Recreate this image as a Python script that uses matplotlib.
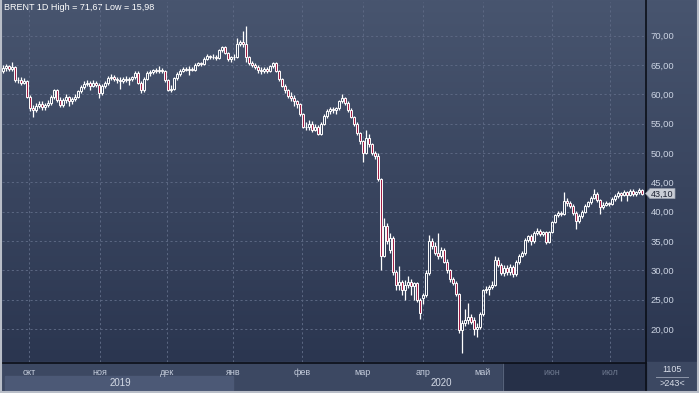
import numpy as np
import matplotlib.pyplot as plt
from matplotlib.patches import Rectangle, Polygon
from matplotlib.colors import LinearSegmentedColormap
import matplotlib.transforms as mtransforms

plt.rcParams['font.family'] = ['Liberation Sans', 'DejaVu Sans']

# daily candles (mid Sep 2019 .. mid Jul 2020)
opens = [
    64.0, 64.5, 64.8, 64.3, 64.6, 62.4, 62.5, 62.0, 62.3, 59.6,
    57.7, 57.3, 58.0, 58.3, 57.8, 58.2, 58.5, 59.5, 60.7, 59.0,
    58.2, 59.0, 59.5, 58.8, 59.2, 59.6, 60.5, 61.3, 61.8, 62.0,
    61.5, 62.0, 61.6, 60.2, 61.5, 61.9, 62.8, 63.0, 62.6, 62.5,
    62.3, 62.7, 62.4, 62.6, 62.9, 63.6, 62.0, 60.7, 62.7, 63.6,
    63.8, 64.1, 63.9, 64.2, 64.0, 62.4, 60.8, 61.0, 62.8, 63.5,
    64.0, 64.3, 64.2, 64.4, 64.2, 65.0, 65.3, 65.2, 66.0, 66.5,
    66.3, 66.4, 66.2, 67.5, 68.0, 67.0, 66.0, 66.3, 66.4, 68.6,
    68.9, 68.5, 66.3, 65.3, 65.0, 64.7, 64.2, 63.9, 64.3, 64.0,
    64.8, 65.3, 64.0, 62.6, 61.5, 60.8, 59.8, 59.3, 58.8, 58.3,
    56.6, 54.5, 54.4, 55.0, 54.0, 54.5, 53.3, 55.0, 56.3, 57.2,
    57.5, 57.3, 57.6, 58.8, 59.3, 58.5, 57.3, 56.2, 55.0, 53.4,
    52.0, 50.0, 52.5, 51.5, 50.0, 49.5, 45.5, 32.5, 37.5, 33.5,
    35.5, 29.7, 27.5, 28.0, 26.6, 27.5, 28.0, 27.3, 27.8, 25.0,
    25.3, 25.8, 29.6, 35.0, 34.2, 33.0, 32.5, 33.5, 31.5, 30.0,
    28.5, 27.9, 26.0, 19.8, 21.0, 21.5, 22.0, 21.5, 20.0, 20.4,
    22.6, 26.6, 26.9, 27.2, 27.5, 31.7, 31.0, 29.6, 30.5, 29.8,
    30.6, 29.4, 31.4, 32.5, 32.9, 35.2, 35.8, 35.0, 36.4, 36.8,
    36.2, 36.5, 34.8, 36.5, 38.2, 39.4, 39.8, 39.6, 41.9, 41.5,
    41.0, 39.8, 38.5, 39.2, 40.0, 41.0, 41.6, 42.3, 43.0, 42.0,
    40.8, 41.2, 41.5, 41.3, 42.2, 42.7, 43.2, 42.9, 43.4, 42.8,
    43.5, 43.0, 43.3, 43.7,
]
highs = [
    65.0, 65.1, 65.0, 65.6, 64.9, 63.0, 62.9, 62.8, 62.5, 59.9,
    58.2, 58.5, 58.9, 58.8, 58.6, 59.0, 59.9, 61.0, 60.9, 59.5,
    59.4, 60.1, 59.8, 59.6, 60.0, 60.8, 61.6, 62.3, 62.4, 62.3,
    62.4, 62.3, 61.9, 61.8, 62.2, 63.1, 63.5, 63.3, 62.9, 62.9,
    63.0, 63.1, 62.9, 63.2, 64.0, 63.9, 62.3, 63.0, 63.9, 64.2,
    64.4, 64.5, 64.8, 64.5, 64.2, 62.6, 61.6, 63.0, 63.8, 64.3,
    64.6, 64.7, 64.8, 64.7, 65.3, 65.6, 65.6, 66.3, 66.8, 66.7,
    66.8, 66.7, 67.8, 68.3, 68.3, 67.2, 66.6, 66.8, 69.6, 69.3,
    70.8, 71.67, 66.6, 65.7, 65.4, 65.0, 64.6, 64.6, 64.6, 65.0,
    65.6, 65.5, 64.2, 62.8, 61.8, 61.0, 60.4, 59.9, 59.1, 58.5,
    56.8, 55.3, 55.6, 55.4, 55.0, 54.8, 55.3, 56.6, 57.5, 57.8,
    57.8, 57.9, 59.1, 60.0, 59.6, 58.8, 57.6, 56.4, 55.3, 53.6,
    52.3, 53.9, 53.3, 51.8, 50.4, 50.0, 45.7, 39.0, 38.0, 36.3,
    35.8, 30.0, 30.8, 28.4, 28.3, 29.0, 28.6, 28.1, 28.0, 25.3,
    26.2, 30.0, 36.0, 35.5, 34.8, 36.3, 34.0, 33.8, 31.9, 30.3,
    28.9, 28.2, 26.2, 21.6, 23.5, 24.5, 22.5, 22.1, 21.0, 23.0,
    26.9, 27.3, 27.6, 28.2, 32.5, 32.3, 31.3, 30.9, 30.9, 31.1,
    30.9, 31.8, 32.8, 33.3, 35.5, 36.1, 36.2, 36.8, 37.2, 37.0,
    36.8, 36.8, 36.7, 38.5, 39.7, 40.1, 40.2, 43.4, 42.3, 41.8,
    41.4, 40.2, 39.6, 40.3, 41.3, 41.9, 42.6, 43.9, 43.3, 42.2,
    41.6, 41.8, 41.7, 42.5, 43.0, 43.5, 43.4, 43.7, 43.6, 43.9,
    43.8, 43.6, 44.0, 43.9,
]
lows = [
    63.6, 64.0, 63.9, 63.9, 62.1, 61.9, 61.6, 61.7, 59.3, 57.2,
    56.2, 57.0, 57.6, 57.4, 57.3, 57.9, 58.2, 59.2, 58.7, 57.9,
    57.9, 58.6, 58.1, 58.4, 58.9, 59.3, 60.2, 61.0, 61.4, 60.8,
    61.2, 61.2, 59.4, 59.9, 61.1, 61.6, 62.5, 62.2, 62.0, 61.0,
    62.0, 62.1, 61.6, 62.2, 62.6, 61.8, 60.3, 60.4, 62.5, 63.2,
    63.5, 63.6, 63.6, 63.7, 62.1, 60.5, 60.4, 60.8, 62.5, 63.2,
    63.8, 63.9, 63.3, 63.9, 64.0, 64.8, 64.9, 65.0, 65.8, 66.0,
    66.0, 65.9, 66.0, 67.2, 66.8, 65.7, 65.6, 65.9, 66.2, 68.3,
    68.0, 65.6, 65.0, 64.6, 64.3, 63.7, 63.5, 63.6, 63.6, 63.8,
    64.5, 63.8, 62.3, 61.2, 60.2, 59.4, 58.9, 58.0, 57.6, 56.3,
    54.2, 53.9, 54.0, 53.6, 53.7, 53.0, 53.1, 54.7, 56.0, 56.6,
    56.8, 56.6, 57.4, 58.5, 58.2, 57.0, 55.9, 54.6, 53.1, 51.5,
    48.5, 49.8, 51.0, 49.6, 49.0, 45.2, 30.1, 32.3, 34.5, 33.0,
    29.3, 26.6, 26.6, 25.8, 24.9, 27.0, 25.9, 25.0, 24.7, 21.8,
    24.2, 25.5, 29.3, 33.6, 32.6, 31.9, 32.1, 31.2, 29.5, 28.1,
    27.5, 25.6, 19.3, 15.98, 20.6, 20.9, 20.8, 19.0, 18.7, 20.1,
    22.3, 26.2, 25.9, 26.8, 27.3, 30.6, 29.2, 29.0, 29.2, 29.3,
    28.9, 29.1, 31.1, 32.3, 32.7, 34.9, 34.4, 34.6, 36.0, 35.9,
    35.9, 34.5, 34.6, 36.3, 38.0, 39.1, 39.3, 39.4, 41.0, 40.6,
    39.5, 37.1, 38.0, 39.0, 39.8, 40.8, 41.4, 42.1, 41.7, 39.6,
    40.5, 40.9, 41.0, 41.1, 41.9, 42.4, 41.8, 42.6, 41.9, 42.6,
    42.7, 42.6, 43.0, 42.9,
]
closes = [
    64.5, 64.8, 64.3, 64.6, 62.4, 62.5, 62.0, 62.3, 59.6, 57.7,
    57.3, 58.0, 58.3, 57.8, 58.2, 58.5, 59.5, 60.7, 59.0, 58.2,
    59.0, 59.5, 58.8, 59.2, 59.6, 60.5, 61.3, 61.8, 62.0, 61.5,
    62.0, 61.6, 60.2, 61.5, 61.9, 62.8, 63.0, 62.6, 62.5, 62.3,
    62.7, 62.4, 62.6, 62.9, 63.6, 62.0, 60.7, 62.7, 63.6, 63.8,
    64.1, 63.9, 64.2, 64.0, 62.4, 60.8, 61.0, 62.8, 63.5, 64.0,
    64.3, 64.2, 64.4, 64.2, 65.0, 65.3, 65.2, 66.0, 66.5, 66.3,
    66.4, 66.2, 67.5, 68.0, 67.0, 66.0, 66.3, 66.4, 68.6, 68.9,
    68.5, 66.3, 65.3, 65.0, 64.7, 64.2, 63.9, 64.3, 64.0, 64.8,
    65.3, 64.0, 62.6, 61.5, 60.8, 59.8, 59.3, 58.8, 58.3, 56.6,
    54.5, 54.4, 55.0, 54.0, 54.5, 53.3, 55.0, 56.3, 57.2, 57.5,
    57.3, 57.6, 58.8, 59.3, 58.5, 57.3, 56.2, 55.0, 53.4, 52.0,
    50.0, 52.5, 51.5, 50.0, 49.5, 45.5, 32.5, 37.5, 35.0, 35.5,
    29.7, 27.5, 28.0, 26.6, 27.5, 28.0, 27.3, 27.8, 25.0, 22.7,
    25.8, 29.6, 35.0, 34.2, 33.0, 32.5, 33.5, 31.5, 30.0, 28.5,
    27.9, 26.0, 19.8, 21.0, 21.5, 22.0, 21.3, 20.0, 20.4, 22.6,
    26.6, 26.9, 27.2, 27.5, 31.7, 31.0, 29.6, 30.5, 29.8, 30.6,
    29.4, 31.4, 32.5, 32.9, 35.2, 35.8, 35.0, 36.4, 36.8, 36.2,
    36.5, 34.8, 36.5, 38.2, 39.4, 39.8, 39.6, 41.9, 41.5, 41.0,
    39.8, 38.5, 39.2, 40.0, 41.0, 41.6, 42.3, 43.0, 42.0, 40.8,
    41.2, 41.5, 41.3, 42.2, 42.7, 43.2, 42.9, 43.4, 42.8, 43.5,
    43.0, 43.3, 43.7, 43.1,
]
months = ['окт', 'ноя', 'дек', 'янв', 'фев', 'мар', 'апр', 'май', 'июн', 'июл']
month_idx = [8.7, 32.3, 54.7, 76.7, 99.7, 120, 140, 160, 183, 202.3]
years = ['2019', '2020']
price_ticks = [20, 25, 30, 35, 40, 45, 50, 55, 60, 65, 70]

W, H = 699, 393
fig = plt.figure(figsize=(W / 100, H / 100), dpi=100)

# background layer in pixel coordinates
bg = fig.add_axes([0, 0, 1, 1])
bg.set_xlim(0, W)
bg.set_ylim(H, 0)
bg.axis('off')
grad = np.linspace(0, 1, 256).reshape(-1, 1)
cmap = LinearSegmentedColormap.from_list('bgc', ['#48556f', '#2b3650'])
bg.imshow(grad, cmap=cmap, aspect='auto', extent=[0, W, 362, 0], zorder=0)

# bottom strip
bg.add_patch(Rectangle((0, 362), W, 31, color='#3c4862', zorder=1))
bg.add_patch(Rectangle((5, 376), 228, 14, color='#4c5976', zorder=2))
bg.add_patch(Rectangle((503, 363), 143, 28, color='#263048', zorder=2))
bg.plot([503, 503], [363, 391], color='#56627a', lw=0.8, zorder=3)
bg.plot([0, 646], [362.5, 362.5], color='#0b0f18', lw=1.2, zorder=4)
bg.plot([646, 646], [0, 391], color='#0b0f18', lw=1.2, zorder=4)
# frame
bg.plot([0.5, 0.5], [0, H], color='#b9bec8', lw=1.5, zorder=5)
bg.plot([0, W], [391.7, 391.7], color='#b9bec8', lw=2.2, zorder=5)
bg.plot([698.3, 698.3], [0, H], color='#b9bec8', lw=1.5, zorder=5)

# counter box bottom right
bg.text(672, 370, '1105', color='#d8dde8', fontsize=6.5, ha='center', va='center', zorder=6)
bg.plot([656, 688], [377, 377], color='#8e97aa', lw=0.7, zorder=6)
bg.text(672, 384, '>243<', color='#d8dde8', fontsize=6.5, ha='center', va='center', zorder=6)

ax = fig.add_axes([2 / W, (H - 362) / H, 643 / W, 360 / H])
ax.set_facecolor('none')
for s in ax.spines.values():
    s.set_visible(False)

x = np.arange(len(closes))
o = np.array(opens)
c = np.array(closes)
hi = np.array(highs)
lo = np.array(lows)
top = np.maximum(o, c)
bot = np.minimum(o, c)
down = c < o

ax.vlines(x, top, hi, color='white', lw=0.9, zorder=3)
ax.vlines(x, lo, bot, color='white', lw=0.9, zorder=3)
ax.bar(x[down], (top - bot)[down], bottom=bot[down], width=0.85,
       facecolor='#a01e45', edgecolor='white', linewidth=0.7, zorder=4)
ax.bar(x[~down], np.maximum((top - bot)[~down], 0.08), bottom=bot[~down], width=0.85,
       facecolor='none', edgecolor='white', linewidth=0.7, zorder=4)

ax.set_xlim(-0.33, 214.0)
ax.set_ylim(14.4, 75.74)

ax.set_yticks(price_ticks)
ax.set_yticklabels([f'{v:.2f}'.replace('.', ',') for v in price_ticks])
ax.yaxis.tick_right()
ax.tick_params(axis='y', length=0, pad=4, labelsize=6.8, labelcolor='#cbd3e2')

ax.set_xticks(month_idx)
ax.set_xticklabels(months)
ax.tick_params(axis='x', length=0, pad=4, labelsize=6.5)
for i, lab in enumerate(ax.get_xticklabels()):
    lab.set_color('#6f7a90' if i >= 8 else '#c4ccdb')

ax.grid(True, color='#5c6883', linestyle=(0, (2.2, 2.6)), lw=0.7, zorder=1)

# year captions
trans = mtransforms.blended_transform_factory(ax.transData, bg.transData)
ax.text(39, 382.5, years[0], transform=trans, color='#d3d9e5', fontsize=7, ha='center', va='center', clip_on=False)
ax.text(146, 382.5, years[1], transform=trans, color='#d3d9e5', fontsize=7, ha='center', va='center', clip_on=False)

# title
hs = f'{max(highs):.2f}'.replace('.', ',')
ls = f'{min(lows):.2f}'.replace('.', ',')
bg.text(4, 8, f'BRENT 1D High = {hs} Low = {ls}', color='white', fontsize=6.5, ha='left', va='center', zorder=6)

# last price tag
yt = ax.transData.transform((0, closes[-1]))[1]
ypx = H - yt
tag = Polygon([[645.5, ypx], [650, ypx - 5], [675, ypx - 5], [675, ypx + 5], [650, ypx + 5]],
              closed=True, facecolor='#c9cdd6', edgecolor='#9aa1ae', lw=0.5, zorder=7)
bg.add_patch(tag)
bg.text(651, ypx + 0.3, f'{closes[-1]:.2f}'.replace('.', ','), color='#1c2233', fontsize=6.5,
        ha='left', va='center', zorder=8)

fig.savefig('out.png', dpi=100)
